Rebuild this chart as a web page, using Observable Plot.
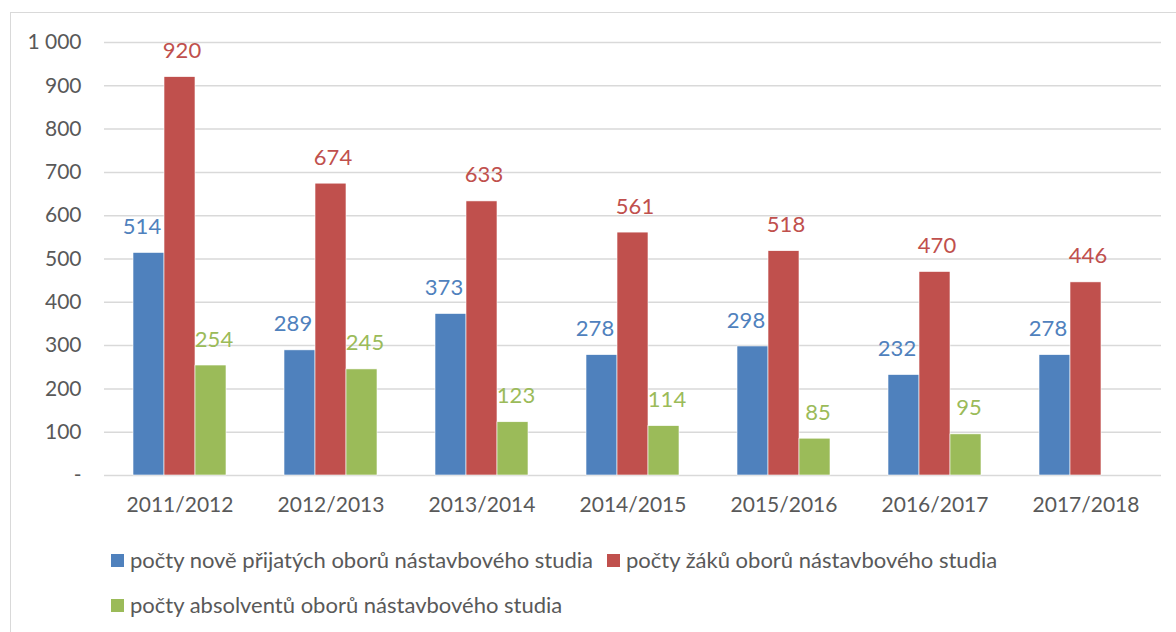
<!DOCTYPE html>
<html>
<head>
<meta charset="utf-8">
<script src="https://cdn.jsdelivr.net/npm/d3@7"></script>
<script src="https://cdn.jsdelivr.net/npm/@observablehq/plot@0.6"></script>
<style>
  html, body { margin: 0; padding: 0; background: #fff; overflow: hidden; width: 1176px; height: 632px; }
  #wrap { position: relative; width: 1176px; height: 632px; font-family: Lato, "Open Sans", sans-serif; color: #595959; }
  #frame { position: absolute; left: 10px; top: 12px; width: 1300px; height: 800px; border: 1.5px solid #d9d9d9; box-sizing: border-box; }
  #chart { position: absolute; left: 0; top: 0; }
  .leg { position: absolute; display: flex; align-items: center; font-size: 22px; white-space: nowrap; line-height: 1; }
  .sw { width: 13px; height: 13px; margin-right: 6px; flex: none; }
</style>
</head>
<body>
<div id="wrap">
  <div id="frame"></div>
  <div id="chart"></div>
  <div id="legend"></div>
</div>
<script>
const years = ["2011/2012","2012/2013","2013/2014","2014/2015","2015/2016","2016/2017","2017/2018"];
const seriesNames = [
  "počty nově přijatých oborů nástavbového studia",
  "počty žáků oborů nástavbového studia",
  "počty absolventů oborů nástavbového studia"
];
const seriesColors = ["#4f81bd", "#c0504d", "#9bbb59"];
const newlyAdmitted = [514, 289, 373, 278, 298, 232, 278];
const students = [920, 674, 633, 561, 518, 470, 446];
const graduates = [254, 245, 123, 114, 85, 95, null];
const yTicks = [0,100,200,300,400,500,600,700,800,900,1000];

const valuesBySeries = [newlyAdmitted, students, graduates];
const data = [];
years.forEach((y, i) => {
  seriesNames.forEach((s, j) => {
    const v = valuesBySeries[j][i];
    if (v != null) data.push({year: y, series: s, value: v});
  });
});

const fmt = d => d === 0 ? "-" : d3.format(",")(d).replace(/,/g, " ");
const labelDx = [-7, 2, 3];

const textMarks = seriesNames.map((s, j) => Plot.text(data.filter(d => d.series === s), {
  fx: "year", x: "series", y: "value", text: d => String(d.value),
  fill: seriesColors[j], dy: -26, dx: labelDx[j], fontSize: 22
}));

const chart = Plot.plot({
  width: 1176,
  height: 530,
  marginLeft: 104,
  marginRight: 15,
  marginTop: 42,
  marginBottom: 55,
  style: {fontFamily: "Lato, 'Open Sans', sans-serif", fontSize: "21px", color: "#595959", background: "transparent"},
  fx: {domain: years, padding: 0, label: null},
  x: {domain: seriesNames, paddingInner: 0, paddingOuter: 0.935, axis: null},
  y: {domain: [0, 1000], axis: null},
  color: {domain: seriesNames, range: seriesColors},
  marks: [
    Plot.ruleY(yTicks, {stroke: "#d9d9d9", strokeWidth: 1.5}),
    Plot.barY(data, {fx: "year", x: "series", y: "value", fill: "series", stroke: "white", strokeWidth: 0.6}),
    ...textMarks,
    Plot.axisY({ticks: yTicks, tickFormat: fmt, tickSize: 0, tickPadding: 23, fontSize: 21, fill: "#595959", label: null}),
    Plot.axisFx({anchor: "bottom", tickSize: 0, tickPadding: 22, fontSize: 21, fill: "#595959", label: null})
  ]
});
document.getElementById("chart").appendChild(chart);

const legend = document.getElementById("legend");
const legendPos = [[111, 560], [607, 560], [111, 605]];
seriesNames.forEach((s, j) => {
  const item = document.createElement("div");
  item.className = "leg";
  item.style.left = legendPos[j][0] + "px";
  item.style.top = (legendPos[j][1] - 11) + "px";
  item.style.height = "22px";
  const sw = document.createElement("span");
  sw.className = "sw";
  sw.style.background = seriesColors[j];
  const t = document.createElement("span");
  t.textContent = s;
  item.appendChild(sw);
  item.appendChild(t);
  legend.appendChild(item);
});
</script>
</body>
</html>
